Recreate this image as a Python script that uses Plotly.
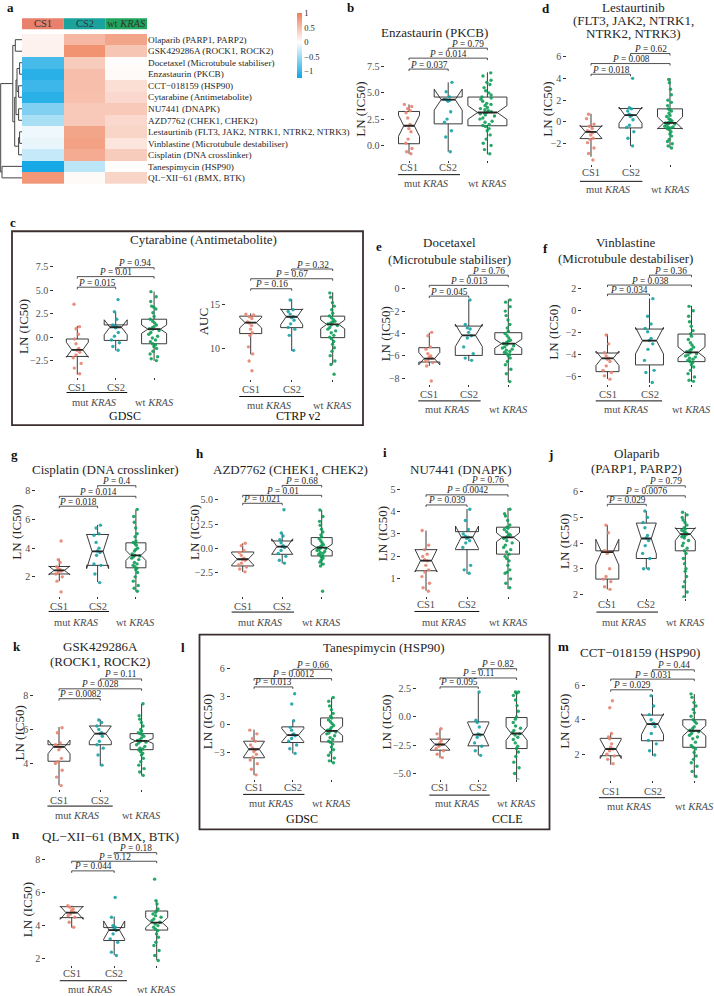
import plotly.graph_objects as go

W, H = 714, 996
FONT = "Liberation Serif"
INK = "#262626"
GREY = "#4D4D4D"
C_CS1 = "#E8836F"
C_CS2 = "#17A2A4"
C_WT = "#109E58"
HEAD_COLORS = ["#E8806C", "#1AA39D", "#1FA45C"]

# ---------------- panel a : heatmap ----------------
drugs = ["Olaparib (PARP1, PARP2)", "GSK429286A (ROCK1, ROCK2)", "Docetaxel (Microtubule stabiliser)",
         "Enzastaurin (PKCB)", "CCT−018159 (HSP90)", "Cytarabine (Antimetabolite)", "NU7441 (DNAPK)",
         "AZD7762 (CHEK1, CHEK2)", "Lestaurtinib (FLT3, JAK2, NTRK1, NTRK2, NTRK3)",
         "Vinblastine (Microtubule destabiliser)", "Cisplatin (DNA crosslinker)",
         "Tanespimycin (HSP90)", "QL−XII−61 (BMX, BTK)"]
heat_groups = ["CS1", "CS2", "wt <i>KRAS</i>"]
heat_cs1 = [0.1, 0.1, -0.95, -1.1, -1.0, -1.1, -0.65, -0.45, -0.08, -0.12, -0.3, -1.2, 0.8]
heat_cs2 = [0.55, 0.85, 0.4, 0.5, 0.5, 0.48, 0.42, 0.42, 0.7, 0.72, 0.65, -0.35, 0.04]
heat_wt = [0.7, 0.45, 0.02, 0.04, 0.25, 0.3, 0.42, 0.3, 0.33, 0.2, 0.4, 0.01, 0.33]
heat_ticks = [-1, -0.5, 0, 0.5, 1]
dendro_merges = [(2, 3, 2.4), (4, 5, 3.4), (13, 14, 5.0), (6, 7, 3.4), (15, 16, 6.0),
                 (8, 9, 2.4), (18, 10, 3.4), (17, 19, 7.3), (0, 1, 6.7), (21, 20, 9.2),
                 (11, 12, 20.0), (22, 23, 21.3)]

x_labels = ["CS1", "CS2"]

# ---------------- b : Enzastaurin ----------------
b_cs1 = [3.9, 3.7, 3.5, 3.3, 3.1, 2.6, 2.0, 1.6, 1.3, 0.6, 0.2, -0.3, -0.6, -0.8]
b_cs2 = [6.0, 5.1, 4.6, 4.4, 4.35, 4.3, 4.2, 3.2, 2.5, 2.2, 1.4, 0.8, -0.6]
b_wt = [6.9, 6.6, 6.2, 6.0, 5.8, 5.5, 5.2, 5.0, 4.8, 4.6, 4.5, 4.4, 4.2, 4.0, 3.9, 3.8, 3.6, 3.5,
        3.4, 3.3, 3.2, 3.15, 3.1, 3.0, 2.9, 2.8, 2.6, 2.5, 2.3, 2.2, 2.0, 1.9, 1.8, 1.6, 1.4, 1.0,
        0.6, 0.2, 0.0, -0.4, -0.8]
b_q1 = [0.16, 2.05, 1.87]
b_med = [1.87, 4.35, 3.13]
b_q3 = [3.23, 4.6, 4.6]
b_lo = [-0.8, -0.6, -0.85]
b_hi = [3.9, 6.0, 6.95]
b_notch = [1.0, 1.0, 0.65]
b_p = ["0.037", "0.014", "0.79"]
b_ph = [7.26, 8.3, 9.25]

# ---------------- d : Lestaurtinib ----------------
d_cs1 = [0.7, 0.3, -0.2, -0.4, -0.6, -0.8, -0.9, -1.0, -1.2, -1.5, -1.6, -1.9, -2.4, -2.9, -3.5]
d_cs2 = [4.0, 1.3, 1.2, 1.0, 0.7, 0.6, 0.5, 0.2, -0.3, -0.5, -0.9, -1.5, -2.2]
d_wt = [3.9, 3.6, 3.0, 2.5, 2.0, 1.8, 1.5, 1.2, 1.1, 1.0, 0.8, 0.6, 0.5, 0.3, 0.2, 0.1, 0.0, -0.05,
        -0.1, -0.15, -0.2, -0.3, -0.4, -0.45, -0.5, -0.55, -0.6, -0.7, -0.9, -1.1, -1.3, -1.6,
        -1.8, -2.0, -2.2, -2.4]
d_q1 = [-1.53, -0.55, -0.6]
d_med = [-0.92, 0.62, -0.09]
d_q3 = [-0.4, 1.23, 1.2]
d_lo = [-3.2, -2.2, -2.4]
d_hi = [0.75, 1.3, 4.0]
d_notch = [0.6, 0.75, 0.55]
d_p = ["0.018", "0.008", "0.62"]
d_ph = [4.38, 5.36, 6.28]

# ---------------- c : Cytarabine (GDSC) ----------------
cg_cs1 = [3.5, 1.1, 0.9, 0.3, -0.2, -0.7, -1.2, -1.4, -1.6, -1.9, -2.2, -2.8, -3.3, -3.9]
cg_cs2 = [4.0, 2.7, 1.9, 1.3, 1.2, 1.1, 1.0, 0.5, 0.1, -0.3, -0.6, -1.0, -1.4]
cg_wt = [4.85, 4.3, 3.8, 3.3, 3.2, 3.0, 2.6, 2.2, 1.9, 1.7, 1.5, 1.3, 1.1, 1.0, 0.9, 0.85, 0.7, 0.5,
         0.3, 0.1, -0.1, -0.3, -0.5, -0.7, -0.8, -1.0, -1.2, -1.5, -1.8, -2.1, -2.3, -2.5]
cg_q1 = [-2.06, -0.35, -0.71]
cg_med = [-1.35, 1.05, 0.85]
cg_q3 = [-0.2, 1.3, 1.91]
cg_lo = [-4.0, -1.42, -2.52]
cg_hi = [1.2, 2.72, 4.85]
cg_notch = [0.8, 0.8, 0.45]
cg_p = ["0.015", "0.01", "0.94"]
cg_ph = [5.32, 6.45, 7.4]

# ---------------- c : Cytarabine (CTRP v2) ----------------
cc_cs1 = [13.9, 13.8, 13.6, 13.4, 13.0, 12.9, 12.6, 12.2, 11.8, 11.5, 10.2, 9.4, 8.6, 7.5]
cc_cs2 = [15.5, 14.4, 14.2, 13.9, 13.6, 13.5, 13.2, 12.8, 12.4, 12.2, 11.5, 9.8]
cc_wt = [16.3, 15.8, 15.2, 14.8, 14.4, 14.0, 13.7, 13.5, 13.3, 13.1, 13.0, 12.9, 12.8, 12.7, 12.6,
         12.4, 12.2, 12.0, 11.8, 11.5, 11.3, 11.1, 10.8, 10.5, 10.1, 9.7, 9.2, 8.6, 8.2, 7.1]
cc_q1 = [11.7, 12.37, 11.24]
cc_med = [12.93, 13.6, 12.74]
cc_q3 = [13.67, 14.43, 13.67]
cc_lo = [9.36, 9.73, 8.2]
cc_hi = [13.98, 15.6, 16.38]
cc_notch = [0.6, 0.9, 0.5]
cc_p = ["0.16", "0.67", "0.32"]
cc_ph = [16.77, 17.9, 19.0]

# ---------------- e : Docetaxel ----------------
e_cs1 = [-3.9, -4.2, -5.2, -5.4, -5.8, -6.0, -6.1, -6.2, -6.3, -6.5, -6.6, -6.9, -8.25]
e_cs2 = [-1.0, -3.2, -3.5, -3.6, -3.9, -4.2, -4.4, -5.2, -5.8, -6.2, -6.4]
e_wt = [-1.0, -1.2, -1.6, -2.0, -2.4, -2.8, -3.2, -3.5, -3.8, -4.0, -4.2, -4.4, -4.6, -4.7, -4.8,
        -4.9, -5.0, -5.1, -5.2, -5.3, -5.4, -5.5, -5.6, -5.7, -5.8, -5.9, -6.0, -6.2, -6.5, -6.8,
        -7.2, -7.6, -8.3]
e_q1 = [-6.55, -5.96, -5.87]
e_med = [-6.25, -4.17, -4.91]
e_q3 = [-5.27, -3.34, -3.93]
e_lo = [-6.9, -6.46, -8.34]
e_hi = [-3.93, -0.95, -0.95]
e_notch = [0.55, 1.0, 0.4]
e_p = ["0.045", "0.013", "0.76"]
e_ph = [-0.66, 0.3, 1.21]

# ---------------- f : Vinblastine ----------------
f_cs1 = [-2.2, -3.0, -3.8, -4.1, -4.3, -4.4, -4.6, -5.0, -5.4, -5.6, -5.9, -6.2]
f_cs2 = [1.1, -0.5, -1.2, -1.6, -1.9, -2.5, -2.7, -3.0, -3.5, -4.5, -5.4, -5.6, -6.5]
f_wt = [0.4, 0.0, -0.5, -1.0, -1.4, -1.8, -2.1, -2.3, -2.6, -2.9, -3.1, -3.3, -3.5, -3.6, -3.7,
        -3.8, -3.9, -4.0, -4.1, -4.2, -4.3, -4.4, -4.5, -4.6, -4.7, -4.9, -5.1, -5.4, -5.7, -6.0,
        -6.3, -6.4]
f_q1 = [-5.52, -4.91, -4.61]
f_med = [-4.31, -2.71, -3.77]
f_q3 = [-3.83, -1.66, -2.11]
f_lo = [-6.18, -6.54, -6.42]
f_hi = [-2.11, 1.12, 0.45]
f_notch = [0.65, 1.2, 0.5]
f_p = ["0.034", "0.038", "0.36"]
f_ph = [1.51, 2.33, 3.23]

# ---------------- g : Cisplatin ----------------
g_cs1 = [4.5, 3.2, 3.0, 2.7, 2.6, 2.5, 2.45, 2.4, 2.3, 2.2, 2.0, 1.7, 0.95]
g_cs2 = [5.6, 5.4, 5.0, 4.9, 4.4, 4.0, 3.8, 3.7, 3.5, 2.9, 2.8, 2.2, 1.6]
g_wt = [6.7, 6.2, 5.8, 5.4, 5.0, 4.8, 4.5, 4.4, 4.3, 4.2, 4.0, 3.9, 3.8, 3.6, 3.5, 3.45, 3.4, 3.3,
        3.2, 3.0, 2.9, 2.8, 2.7, 2.6, 2.5, 2.3, 2.0, 1.7, 1.4, 1.2, 1.0]
g_q1 = [2.2, 2.8, 2.63]
g_med = [2.45, 3.77, 3.49]
g_q3 = [2.72, 4.95, 4.37]
g_lo = [1.7, 1.64, 0.99]
g_hi = [3.26, 5.62, 6.68]
g_notch = [0.3, 1.2, 0.35]
g_p = ["0.018", "0.014", "0.4"]
g_ph = [6.92, 7.61, 8.35]

# ---------------- h : AZD7762 ----------------
h_cs1 = [0.55, 0.3, -0.2, -0.4, -0.7, -1.0, -1.1, -1.2, -1.5, -1.7, -1.9, -2.1, -2.4]
h_cs2 = [4.0, 1.6, 1.3, 0.9, 0.6, 0.3, 0.2, 0.1, -0.2, -0.5, -0.8, -1.2, -1.5]
h_wt = [3.97, 3.3, 2.8, 2.4, 2.0, 1.7, 1.4, 1.2, 1.0, 0.8, 0.6, 0.4, 0.3, 0.2, 0.1, 0.05, 0.0,
        -0.1, -0.2, -0.3, -0.4, -0.5, -0.6, -0.7, -0.8, -0.9, -1.0, -1.2, -1.4, -1.6, -1.8, -4.4]
h_q1 = [-1.79, -0.59, -0.76]
h_med = [-1.1, 0.2, 0.1]
h_q3 = [-0.35, 0.78, 1.13]
h_lo = [-2.4, -1.51, -1.79]
h_hi = [0.54, 1.64, 3.97]
h_notch = [0.6, 0.8, 0.35]
h_p = ["0.021", "0.01", "0.68"]
h_ph = [4.66, 5.48, 6.5]

# ---------------- i : NU7441 ----------------
i_cs1 = [3.15, 2.5, 2.3, 2.1, 2.0, 1.85, 1.8, 1.6, 1.4, 1.3, 1.1, 0.8, 0.6, 0.45]
i_cs2 = [4.1, 3.6, 3.2, 3.0, 2.9, 2.85, 2.8, 2.7, 2.6, 2.4, 1.6, 1.4, 1.25]
i_wt = [4.1, 3.9, 3.8, 3.6, 3.4, 3.3, 3.25, 3.2, 3.1, 3.0, 2.95, 2.9, 2.85, 2.8, 2.7, 2.6, 2.5,
        2.4, 2.3, 2.2, 2.1, 2.0, 1.9, 1.8, 1.6, 1.4, 1.3, 1.25, 1.0, 0.8, 0.6]
i_q1 = [1.36, 2.3, 2.1]
i_med = [1.81, 2.85, 2.85]
i_q3 = [2.3, 3.1, 3.3]
i_lo = [0.47, 1.22, 0.55]
i_hi = [3.15, 4.11, 4.15]
i_notch = [0.5, 0.5, 0.2]
i_p = ["0.039", "0.0042", "0.76"]
i_ph = [4.29, 4.74, 5.19]

# ---------------- j : Olaparib ----------------
j_cs1 = [4.7, 4.4, 3.7, 3.68, 3.65, 3.6, 3.0, 2.7, 2.6, 2.5, 2.3, 2.2]
j_cs2 = [5.25, 5.0, 4.8, 4.6, 4.3, 4.2, 4.1, 3.9, 3.6, 3.4, 3.0, 3.0]
j_wt = [5.2, 5.1, 5.0, 4.9, 4.8, 4.7, 4.6, 4.55, 4.5, 4.45, 4.4, 4.35, 4.3, 4.3, 4.25, 4.2, 4.1,
        4.0, 3.9, 3.8, 3.7, 3.6, 3.4, 3.2, 3.0, 2.9, 2.7, 2.5, 2.3, 2.1, 1.9, 1.8]
j_q1 = [2.6, 3.4, 3.7]
j_med = [3.65, 4.18, 4.35]
j_q3 = [3.7, 4.78, 4.57]
j_lo = [2.2, 3.0, 1.8]
j_hi = [4.7, 5.25, 5.2]
j_notch = [0.5, 0.6, 0.25]
j_p = ["0.029", "0.0076", "0.79"]
j_ph = [5.51, 5.84, 6.23]

# ---------------- k : GSK429286A ----------------
k_cs1 = [6.1, 5.8, 5.2, 5.1, 5.0, 4.95, 4.8, 4.3, 4.1, 4.0, 3.6, 3.2, 2.7]
k_cs2 = [6.55, 6.4, 6.2, 6.0, 5.8, 5.75, 5.6, 5.3, 5.1, 4.9, 4.5, 3.9]
k_wt = [7.5, 6.8, 6.6, 6.4, 6.2, 6.0, 5.9, 5.8, 5.75, 5.7, 5.6, 5.5, 5.4, 5.35, 5.3, 5.25, 5.2,
        5.1, 5.0, 4.9, 4.85, 4.8, 4.7, 4.6, 4.5, 4.3, 4.1, 3.9, 3.7, 3.5, 3.3]
k_q1 = [4.13, 5.1, 4.81]
k_med = [4.97, 5.75, 5.32]
k_q3 = [5.1, 6.2, 5.75]
k_lo = [2.72, 3.86, 3.3]
k_hi = [6.14, 6.58, 7.5]
k_notch = [0.4, 0.45, 0.15]
k_p = ["0.0082", "0.028", "0.11"]
k_ph = [7.8, 8.38, 8.96]

# ---------------- l : Tanespimycin (GDSC) ----------------
lg_cs1 = [-0.6, -1.0, -1.5, -1.8, -2.2, -2.5, -2.7, -2.9, -3.2, -3.5, -3.8, -4.2, -4.8, -5.4]
lg_cs2 = [3.3, 2.2, 0.4, -0.3, -0.6, -1.0, -1.1, -1.2, -1.5, -1.8, -2.2, -2.6, -3.1]
lg_wt = [2.9, 2.5, 2.0, 1.6, 1.2, 0.9, 0.7, 0.5, 0.3, 0.1, -0.1, -0.3, -0.5, -0.6, -0.7, -0.8,
         -0.9, -1.0, -1.2, -1.4, -1.6, -1.8, -1.9, -2.1, -2.4, -2.7, -3.0, -3.3, -3.6, -3.9, -4.1]
lg_q1 = [-3.57, -1.93, -1.86]
lg_med = [-2.65, -1.14, -0.68]
lg_q3 = [-1.79, -0.25, 0.71]
lg_lo = [-5.43, -3.1, -4.07]
lg_hi = [-0.54, 0.46, 2.89]
lg_notch = [0.85, 0.7, 0.5]
lg_p = ["0.013", "0.0012", "0.66"]
lg_ph = [4.04, 4.93, 5.93]

# ---------------- l : Tanespimycin (CCLE) ----------------
lc_cs1 = [-1.05, -1.5, -1.9, -2.1, -2.3, -2.45, -2.6, -2.8, -3.0, -3.3, -3.6]
lc_cs2 = [2.2, -0.3, -0.5, -0.9, -1.5, -1.6, -1.8, -2.3, -2.6, -3.0, -3.4]
lc_wt = [2.2, 2.2, 2.1, 1.9, 1.5, 1.0, 0.5, 0.0, -0.2, -0.5, -0.8, -1.0, -1.2, -1.4, -1.5, -1.6,
         -1.8, -2.0, -2.3, -2.6, -2.8, -3.1, -3.5, -4.0, -4.5, -5.0, -5.6]
lc_q1 = [-2.94, -2.56, -2.8]
lc_med = [-2.44, -1.56, -1.47]
lc_q3 = [-1.97, -0.44, -0.06]
lc_lo = [-3.62, -3.39, -5.65]
lc_hi = [-1.03, 2.2, 2.2]
lc_notch = [0.5, 1.0, 0.6]
lc_p = ["0.095", "0.11", "0.82"]
lc_ph = [2.65, 3.44, 4.26]

# ---------------- m : CCT-018159 ----------------
m_cs1 = [5.1, 4.7, 3.2, 3.0, 2.9, 2.6, 2.4, 2.3, 2.2, 2.0, 1.9, 1.7, 1.45]
m_cs2 = [5.4, 4.8, 4.3, 4.0, 3.8, 3.75, 3.6, 3.2, 2.8, 2.6, 2.2, 1.95]
m_wt = [5.5, 5.3, 5.0, 4.8, 4.6, 4.4, 4.2, 4.0, 3.9, 3.8, 3.6, 3.5, 3.4, 3.35, 3.3, 3.2, 3.1, 3.0,
        2.9, 2.7, 2.5, 2.4, 2.3, 2.1, 1.9, 1.7, 1.5, 1.3, 1.0, 0.7]
m_q1 = [1.91, 2.78, 2.4]
m_med = [2.3, 3.75, 3.36]
m_q3 = [2.92, 4.27, 4.0]
m_lo = [1.39, 1.91, 0.66]
m_hi = [3.23, 5.43, 5.49]
m_notch = [0.55, 0.6, 0.3]
m_p = ["0.029", "0.031", "0.44"]
m_ph = [5.74, 6.36, 6.9]

# ---------------- n : QL-XII-61 ----------------
n_cs1 = [5.2, 5.1, 5.0, 4.9, 4.8, 4.7, 4.6, 4.5, 4.2, 3.9]
n_cs2 = [5.7, 4.5, 4.0, 3.9, 3.8, 3.7, 3.5, 3.2, 3.0, 2.4, 2.2]
n_wt = [6.8, 5.5, 5.3, 5.0, 4.9, 4.8, 4.7, 4.6, 4.5, 4.4, 4.3, 4.2, 4.1, 4.0, 3.9, 3.8, 3.7, 3.5,
        3.3, 3.0, 2.8, 2.5, 2.2, 1.9]
n_q1 = [4.48, 3.1, 3.73]
n_med = [4.78, 3.73, 4.18]
n_q3 = [5.14, 3.88, 4.88]
n_lo = [3.88, 2.23, 1.93]
n_hi = [5.2, 4.54, 5.54]
n_notch = [0.4, 0.55, 0.3]
n_p = ["0.044", "0.12", "0.18"]
n_ph = [7.3, 7.88, 8.4]

panels = [
    dict(id="b", pts=[b_cs1, b_cs2, b_wt], q1=b_q1, med=b_med, q3=b_q3, lo=b_lo, hi=b_hi, notch=b_notch, p=b_p, ph=b_ph),
    dict(id="d", pts=[d_cs1, d_cs2, d_wt], q1=d_q1, med=d_med, q3=d_q3, lo=d_lo, hi=d_hi, notch=d_notch, p=d_p, ph=d_ph),
    dict(id="cg", pts=[cg_cs1, cg_cs2, cg_wt], q1=cg_q1, med=cg_med, q3=cg_q3, lo=cg_lo, hi=cg_hi, notch=cg_notch, p=cg_p, ph=cg_ph),
    dict(id="cc", pts=[cc_cs1, cc_cs2, cc_wt], q1=cc_q1, med=cc_med, q3=cc_q3, lo=cc_lo, hi=cc_hi, notch=cc_notch, p=cc_p, ph=cc_ph),
    dict(id="e", pts=[e_cs1, e_cs2, e_wt], q1=e_q1, med=e_med, q3=e_q3, lo=e_lo, hi=e_hi, notch=e_notch, p=e_p, ph=e_ph),
    dict(id="f", pts=[f_cs1, f_cs2, f_wt], q1=f_q1, med=f_med, q3=f_q3, lo=f_lo, hi=f_hi, notch=f_notch, p=f_p, ph=f_ph),
    dict(id="g", pts=[g_cs1, g_cs2, g_wt], q1=g_q1, med=g_med, q3=g_q3, lo=g_lo, hi=g_hi, notch=g_notch, p=g_p, ph=g_ph),
    dict(id="h", pts=[h_cs1, h_cs2, h_wt], q1=h_q1, med=h_med, q3=h_q3, lo=h_lo, hi=h_hi, notch=h_notch, p=h_p, ph=h_ph),
    dict(id="i", pts=[i_cs1, i_cs2, i_wt], q1=i_q1, med=i_med, q3=i_q3, lo=i_lo, hi=i_hi, notch=i_notch, p=i_p, ph=i_ph),
    dict(id="j", pts=[j_cs1, j_cs2, j_wt], q1=j_q1, med=j_med, q3=j_q3, lo=j_lo, hi=j_hi, notch=j_notch, p=j_p, ph=j_ph),
    dict(id="k", pts=[k_cs1, k_cs2, k_wt], q1=k_q1, med=k_med, q3=k_q3, lo=k_lo, hi=k_hi, notch=k_notch, p=k_p, ph=k_ph),
    dict(id="lg", pts=[lg_cs1, lg_cs2, lg_wt], q1=lg_q1, med=lg_med, q3=lg_q3, lo=lg_lo, hi=lg_hi, notch=lg_notch, p=lg_p, ph=lg_ph),
    dict(id="lc", pts=[lc_cs1, lc_cs2, lc_wt], q1=lc_q1, med=lc_med, q3=lc_q3, lo=lc_lo, hi=lc_hi, notch=lc_notch, p=lc_p, ph=lc_ph),
    dict(id="m", pts=[m_cs1, m_cs2, m_wt], q1=m_q1, med=m_med, q3=m_q3, lo=m_lo, hi=m_hi, notch=m_notch, p=m_p, ph=m_ph),
    dict(id="n", pts=[n_cs1, n_cs2, n_wt], q1=n_q1, med=n_med, q3=n_q3, lo=n_lo, hi=n_hi, notch=n_notch, p=n_p, ph=n_ph),
]

# ---------------- geometry (pixels) ----------------
YT = "LN (IC50)"
GEOM = {
    "b": dict(c1=409, dx=39.2, va=(7.5, 66.7), vb=(0, 145.7), top=38, bot=160, ticks=[0, 2.5, 5, 7.5], dec=1,
              bw=[21, 28, 39], ytitle=(YT, 361, 110), xl=168.3, ul=175, mut=184,
              title=[("Enzastaurin (PKCB)", 435, 33)], letter=("b", 350, 8)),
    "d": dict(c1=591, dx=39.5, va=(6, 56.7), vb=(-2, 144), top=42, bot=164, ticks=[-2, 0, 2, 4, 6], dec=0,
              bw=[22, 23, 25], ytitle=(YT, 548, 110), xl=173, ul=181.7, mut=190,
              title=[("Lestaurtinib", 633, 7.5), ("(FLT3, JAK2, NTRK1,", 633, 20.5), ("NTRK2, NTRK3)", 633, 33.5)],
              letter=("d", 546, 8.5)),
    "cg": dict(c1=77.3, dx=38.4, va=(7.5, 267.3), vb=(-2.5, 361.3), top=255, bot=378, ticks=[-2.5, 0, 2.5, 5, 7.5], dec=1,
               bw=[22, 23, 25], ytitle=(YT, 23, 326.7), xl=388.7, ul=393.3, mut=403.3,
               title=[("Cytarabine (Antimetabolite)", 203, 240)], letter=("c", 13, 223), sub=("GDSC", 125, 416.7)),
    "cc": dict(c1=250.7, dx=41, va=(15, 305), vb=(10, 349.3), top=255, bot=380, ticks=[10, 15], dec=0,
               bw=[22, 22, 24], ytitle=("AUC", 203, 323), xl=390.7, ul=397.3, mut=406, title=[],
               sub=("CTRP v2", 298, 416.7)),
    "e": dict(c1=429.3, dx=39.5, va=(0, 289.3), vb=(-8, 379), top=265, bot=385, ticks=[-8, -6, -4, -2, 0], dec=0,
              bw=[21, 27, 27], ytitle=(YT, 385, 335), xl=395, ul=401.7, mut=410.7,
              title=[("Docetaxel", 449, 243.3), ("(Microtubule stabiliser)", 449, 260)], letter=("e", 379, 247)),
    "f": dict(c1=607.5, dx=42, va=(2, 289.3), vb=(-6, 377.7), top=265, bot=385, ticks=[-6, -4, -2, 0, 2], dec=0,
              bw=[23, 28, 27], ytitle=(YT, 553.3, 333), xl=395, ul=401.7, mut=410.7,
              title=[("Vinblastine", 625, 243.3), ("(Microtubule destabiliser)", 625, 259.3)], letter=("f", 545, 249)),
    "g": dict(c1=59.3, dx=38.3, va=(8, 491.7), vb=(2, 578), top=476, bot=597, ticks=[2, 4, 6, 8], dec=0,
              bw=[21, 22, 20], ytitle=(YT, 16.7, 533), xl=607.3, ul=612.7, mut=623.3,
              title=[("Cisplatin (DNA crosslinker)", 105, 470)], letter=("g", 14, 455)),
    "h": dict(c1=242.7, dx=39.5, va=(5, 501), vb=(-2.5, 574), top=476, bot=597, ticks=[-2.5, 0, 2.5, 5], dec=1,
              bw=[22, 21, 21], ytitle=(YT, 195, 533), xl=607.3, ul=613.3, mut=623.3,
              title=[("AZD7762 (CHEK1, CHEK2)", 290, 470)], letter=("h", 200, 454)),
    "i": dict(c1=426, dx=41, va=(5, 490), vb=(1, 580), top=476, bot=597, ticks=[1, 2, 3, 4, 5], dec=0,
              bw=[22, 23, 23], ytitle=(YT, 383.3, 535), xl=606, ul=612.7, mut=623.3,
              title=[("NU7441 (DNAPK)", 460, 470)], letter=("i", 385, 453)),
    "j": dict(c1=607.3, dx=39, va=(6, 492.7), vb=(2, 595.7), top=476, bot=599, ticks=[2, 3, 4, 5, 6], dec=0,
              bw=[23, 20, 20], ytitle=(YT, 565, 543), xl=606, ul=613.3, mut=623.3,
              title=[("Olaparib", 636.7, 454.5), ("(PARP1, PARP2)", 636.7, 469.5)], letter=("j", 550, 455)),
    "k": dict(c1=59, dx=41.3, va=(8, 696.7), vb=(4, 765), top=672, bot=791, ticks=[4, 6, 8], dec=0,
              bw=[22, 22, 23], ytitle=(YT, 20, 735), xl=801.7, ul=807.7, mut=816.7,
              title=[("GSK429286A", 100, 648.3), ("(ROCK1, ROCK2)", 100, 663.3)], letter=("k", 17, 648)),
    "lg": dict(c1=254, dx=38.8, va=(6, 670), vb=(-3, 754), top=658, bot=781, ticks=[-3, 0, 3, 6], dec=0,
               bw=[21, 22, 22], ytitle=(YT, 208.3, 723.3), xl=789.3, ul=796, mut=805,
               title=[("Tanespimycin (HSP90)", 384, 649.3)], letter=("l", 183, 649), sub=("GDSC", 302, 820.7)),
    "lc": dict(c1=440, dx=38.3, va=(2.5, 690), vb=(-5, 775), top=658, bot=781, ticks=[-5, -2.5, 0, 2.5], dec=1,
               bw=[20, 21, 21], ytitle=(YT, 386.7, 723.3), xl=789.3, ul=796.7, mut=805, title=[],
               sub=("CCLE", 507, 820.7)),
    "m": dict(c1=610.7, dx=41.8, va=(6, 686.7), vb=(2, 755.7), top=660, bot=782, ticks=[2, 4, 6], dec=0,
              bw=[21, 22, 23], ytitle=(YT, 565, 723.3), xl=792.7, ul=799.3, mut=808.3,
              title=[("CCT−018159 (HSP90)", 640, 654)], letter=("m", 563, 648)),
    "n": dict(c1=71.7, dx=42.5, va=(8, 861), vb=(2, 960.7), top=843, bot=967, ticks=[2, 4, 6, 8], dec=0,
              bw=[23, 21, 22], ytitle=(YT, 28.3, 911.7), xl=975, ul=982.7, mut=991.7,
              title=[("QL−XII−61 (BMX, BTK)", 110, 838)], letter=("n", 16, 836)),
}
FRAMES = [(12, 231.7, 363, 426), (199.5, 636, 549.5, 831)]


def px_x(p):
    return min(max(p / W, 0.0), 1.0)


def px_y(p):
    return min(max(1 - p / H, 0.0), 1.0)


def tick_text(v, dec):
    return f"{v:.{dec}f}".replace("-", "−")


def text_at(x, y, text, size, color=INK, xref="paper", angle=0, xanchor="center"):
    return dict(xref=xref, yref="paper", x=x, y=px_y(y), text=text, showarrow=False, textangle=angle,
                xanchor=xanchor, yanchor="middle", font=dict(family=FONT, size=size, color=color))


traces, shapes, annos = [], [], []
layout = dict(width=W, height=H, margin=dict(l=0, r=0, t=0, b=0), paper_bgcolor="white",
              plot_bgcolor="white", showlegend=False, boxmode="overlay", hovermode=False,
              font=dict(family=FONT, color=INK))

# ---------- heatmap ----------
HX0, HX1, HY0, HY1 = 22, 147, 34, 184
zmin, zmax = -1.24, 1.01
zero = (0 - zmin) / (zmax - zmin)
z = [[a, b, c] for a, b, c in zip(heat_cs1, heat_cs2, heat_wt)]
traces.append(go.Heatmap(
    z=z, x=[0, 1, 2], y=list(range(len(drugs))), zmin=zmin, zmax=zmax,
    colorscale=[[0, "#0EA6E4"], [zero, "#FFFFFF"], [1, "#EE7D55"]],
    xaxis="x", yaxis="y", hoverinfo="skip",
    colorbar=dict(x=px_x(297), xanchor="left", y=px_y(45.7), yanchor="middle", len=65, lenmode="pixels",
                  thickness=5, thicknessmode="pixels", outlinewidth=0, xpad=0, ypad=0,
                  tickvals=heat_ticks, ticktext=[("−" if v < 0 else "") + f"{abs(v):g}" for v in heat_ticks],
                  ticks="", tickfont=dict(family=FONT, size=8.5, color=INK))))
layout["xaxis"] = dict(domain=[px_x(HX0), px_x(HX1)], range=[-0.5, 2.5], anchor="y", showticklabels=False,
                       ticks="", showgrid=False, zeroline=False, showline=False)
layout["yaxis"] = dict(domain=[px_y(HY1), px_y(HY0)], range=[len(drugs) - 0.5, -0.5], anchor="x", side="right",
                       tickvals=list(range(len(drugs))), ticktext=drugs, ticks="", showgrid=False,
                       zeroline=False, showline=False, tickfont=dict(family=FONT, size=9.2, color=INK))
for i, (lab, col) in enumerate(zip(heat_groups, HEAD_COLORS)):
    shapes.append(dict(type="rect", xref="x", yref="paper", x0=i - 0.5, x1=i + 0.5,
                       y0=px_y(29.3), y1=px_y(18.3), fillcolor=col, line=dict(width=0), layer="below"))
    annos.append(text_at(i, 23.8, lab, 10.5, "#333333", xref="x"))

# ---------- dendrogram ----------
pos = {i: float(i) for i in range(len(drugs))}
hgt = {i: 0.0 for i in range(len(drugs))}
dx_, dy_ = [], []
for k, (a, b, h) in enumerate(dendro_merges):
    dx_ += [hgt[a], h, h, hgt[b], None]
    dy_ += [pos[a], pos[a], pos[b], pos[b], None]
    pos[len(drugs) + k] = (pos[a] + pos[b]) / 2
    hgt[len(drugs) + k] = h
traces.append(go.Scatter(x=dx_, y=dy_, mode="lines", line=dict(color="#444444", width=1),
                         xaxis="x2", yaxis="y2", hoverinfo="skip"))
layout["xaxis2"] = dict(domain=[0, px_x(HX0)], range=[22, 0], anchor="y2", visible=False)
layout["yaxis2"] = dict(domain=[px_y(HY1), px_y(HY0)], range=[len(drugs) - 0.5, -0.5], anchor="x2", visible=False)

# ---------- box panels ----------
colors = [C_CS1, C_CS2, C_WT]
pairs = [(0, 1), (0, 2), (1, 2)]
for n, P in enumerate(panels):
    ax = n + 3
    xa, ya = f"x{ax}", f"y{ax}"
    g = GEOM[P["id"]]
    c1, dxp = g["c1"], g["dx"]
    left_px = c1 - 0.6 * dxp
    right_px = min(c1 + 2.6 * dxp, W)
    (va, pa), (vb, pb) = g["va"], g["vb"]
    ppu = (pb - pa) / (va - vb)
    vtop = va + (pa - g["top"]) / ppu
    vbot = va + (pa - g["bot"]) / ppu
    layout[f"xaxis{ax}"] = dict(domain=[px_x(left_px), px_x(right_px)],
                                range=[(left_px - c1) / dxp, (right_px - c1) / dxp],
                                anchor=ya, tickvals=[0, 1, 2], showticklabels=False, ticks="outside",
                                ticklen=2, tickwidth=1, tickcolor="#333333", showgrid=False, zeroline=False,
                                showline=False)
    layout[f"yaxis{ax}"] = dict(domain=[px_y(g["bot"]), px_y(g["top"])], range=[vbot, vtop], anchor=xa,
                                tickvals=g["ticks"], ticktext=[tick_text(v, g["dec"]) for v in g["ticks"]],
                                ticks="outside", ticklen=3, tickwidth=1, tickcolor="#333333", showgrid=False,
                                zeroline=False, showline=False, tickfont=dict(family=FONT, size=10, color=GREY))
    for i in range(3):
        bw = g["bw"][i] / dxp
        traces.append(go.Box(x=[i], q1=[P["q1"][i]], median=[P["med"][i]], q3=[P["q3"][i]],
                             lowerfence=[P["lo"][i]], upperfence=[P["hi"][i]], notchspan=[P["notch"][i]],
                             notched=True, notchwidth=0.25, width=bw, whiskerwidth=0, boxpoints=False,
                             fillcolor="white", line=dict(color=INK, width=0.9),
                             xaxis=xa, yaxis=ya, hoverinfo="skip"))
        half = bw / 2 * 0.5
        traces.append(go.Scatter(x=[i - half, i + half], y=[P["med"][i]] * 2, mode="lines",
                                 line=dict(color=INK, width=1.8), xaxis=xa, yaxis=ya, hoverinfo="skip"))
        pts = P["pts"][i]
        traces.append(go.Box(x=[i] * len(pts), y=pts, boxpoints="all", jitter=0.45, pointpos=0, width=bw,
                             marker=dict(color=colors[i], size=3.4, opacity=0.9),
                             line=dict(color="rgba(0,0,0,0)", width=0), fillcolor="rgba(0,0,0,0)",
                             xaxis=xa, yaxis=ya, hoverinfo="skip"))
    t = 2.0 / ppu
    for (a, b), lab, h in zip(pairs, P["p"], P["ph"]):
        shapes.append(dict(type="path", xref=xa, yref=ya,
                           path=f"M {a},{h - t} L {a},{h} L {b},{h} L {b},{h - t}",
                           line=dict(color=INK, width=0.8)))
        annos.append(dict(xref=xa, yref=ya, x=(a + b) / 2, y=h, xanchor="center", yanchor="bottom", yshift=-2.5,
                          text=f"<i>P</i> = {lab}", showarrow=False,
                          font=dict(family=FONT, size=9.3, color=INK)))
    for i, lab in enumerate(x_labels):
        annos.append(text_at(i, g["xl"], lab, 10.5, GREY, xref=xa))
    shapes.append(dict(type="line", xref=xa, yref="paper", x0=-0.28, x1=1.3,
                       y0=px_y(g["ul"]), y1=px_y(g["ul"]), line=dict(color="#111111", width=1)))
    annos.append(text_at(0.45, g["mut"], "mut <i>KRAS</i>", 10.5, GREY, xref=xa))
    annos.append(text_at(2, g["mut"], "wt <i>KRAS</i>", 10.5, GREY, xref=xa))
    yt, ytx, yty = g["ytitle"]
    annos.append(text_at(px_x(ytx), yty, yt, 13, INK, angle=-90))
    for txt, tx, ty in g["title"]:
        annos.append(text_at(px_x(tx), ty, txt, 13, INK))
    if "letter" in g:
        lt, lx, ly = g["letter"]
        annos.append(text_at(px_x(lx), ly, f"<b>{lt}</b>", 13, "#111111"))
    if "sub" in g:
        st, sx, sy = g["sub"]
        annos.append(text_at(px_x(sx), sy, st, 12, "#111111"))

annos.append(text_at(px_x(10), 8, "<b>a</b>", 13, "#111111"))
for (x0, y0, x1, y1) in FRAMES:
    shapes.append(dict(type="rect", xref="paper", yref="paper", x0=px_x(x0), x1=px_x(x1),
                       y0=px_y(y1), y1=px_y(y0), line=dict(color="#3B2E2E", width=1.8)))

layout["shapes"] = shapes
layout["annotations"] = annos
fig = go.Figure(data=traces, layout=layout)
fig.write_html("out.html", config={"displayModeBar": False},
               post_script="document.body.style.margin='0';document.body.style.padding='0';")
